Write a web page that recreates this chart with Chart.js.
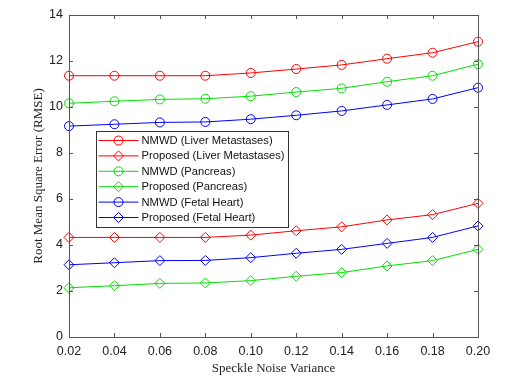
<!DOCTYPE html>
<html>
<head>
<meta charset="utf-8">
<script src="https://cdn.jsdelivr.net/npm/chart.js@4/dist/chart.umd.min.js"></script>
<style>
html,body{margin:0;padding:0;background:#fff;}
#wrap{width:528px;height:381px;position:relative;}
</style>
</head>
<body>
<div id="wrap"><canvas id="c" width="528" height="381"></canvas></div>
<script>
const noiseVariance = ['0.02','0.04','0.06','0.08','0.10','0.12','0.14','0.16','0.18','0.20'];
const nmwdLiver     = [11.36,11.36,11.36,11.36,11.48,11.65,11.83,12.10,12.36,12.84];
const propLiver     = [4.33,4.33,4.33,4.33,4.43,4.62,4.79,5.09,5.32,5.81];
const nmwdPancreas  = [10.16,10.25,10.33,10.36,10.47,10.65,10.81,11.10,11.36,11.86];
const propPancreas  = [2.14,2.23,2.33,2.35,2.45,2.64,2.80,3.09,3.32,3.81];
const nmwdHeart     = [9.17,9.25,9.33,9.35,9.47,9.64,9.83,10.09,10.35,10.84];
const propHeart     = [3.14,3.23,3.32,3.33,3.45,3.64,3.81,4.07,4.33,4.83];
const yTicks = [0,2,4,6,8,10,12,14];

const RED = '#ff0000', GREEN = '#00e000', BLUE = '#0000ff';
function ds(label, data, color, style){
  return {label, data, borderColor: color, backgroundColor: 'rgba(0,0,0,0)',
    pointBackgroundColor: 'rgba(0,0,0,0)', pointBorderColor: color,
    pointStyle: style, pointRadius: style === 'circle' ? 4.5 : 5, pointBorderWidth: 1,
    borderWidth: 1, tension: 0, fill: false};
}
const datasets = [
  ds('NMWD (Liver Metastases)', nmwdLiver, RED, 'circle'),
  ds('Proposed (Liver Metastases)', propLiver, RED, 'rectRot'),
  ds('NMWD (Pancreas)', nmwdPancreas, GREEN, 'circle'),
  ds('Proposed (Pancreas)', propPancreas, GREEN, 'rectRot'),
  ds('NMWD (Fetal Heart)', nmwdHeart, BLUE, 'circle'),
  ds('Proposed (Fetal Heart)', propHeart, BLUE, 'rectRot')
];

const AXIS = '#555555';
const boxTicks = {
  id: 'boxTicks',
  afterDraw(chart){
    const {ctx, chartArea: a, scales: {x, y}} = chart;
    ctx.save();
    ctx.strokeStyle = AXIS; ctx.lineWidth = 1;
    ctx.strokeRect(Math.round(a.left)+0.5, Math.round(a.top)+0.5, Math.round(a.right-a.left), Math.round(a.bottom-a.top));
    ctx.beginPath();
    const L = 4;
    x.ticks.forEach((t,i) => {
      const px = Math.round(x.getPixelForTick(i)) + 0.5;
      ctx.moveTo(px, a.bottom); ctx.lineTo(px, a.bottom - L);
      ctx.moveTo(px, a.top); ctx.lineTo(px, a.top + L);
    });
    y.ticks.forEach(t => {
      const py = Math.round(y.getPixelForValue(t.value)) + 0.5;
      ctx.moveTo(a.left, py); ctx.lineTo(a.left + L, py);
      ctx.moveTo(a.right, py); ctx.lineTo(a.right - L, py);
    });
    ctx.stroke();
    ctx.restore();
  }
};

const boxLegend = {
  id: 'boxLegend',
  afterDatasetsDraw(chart){
    const {ctx, chartArea: a} = chart;
    const bx = Math.round(a.left + 27) + 0.5, by = Math.round(a.top + 116) + 0.5;
    const bw = 192, bh = 96, rowH = 15.4;
    ctx.save();
    ctx.fillStyle = '#fff';
    ctx.fillRect(bx, by, bw, bh);
    ctx.strokeStyle = '#333'; ctx.lineWidth = 1;
    ctx.strokeRect(bx, by, bw, bh);
    ctx.font = '11.2px "Liberation Sans", Arial, sans-serif';
    ctx.textBaseline = 'middle';
    chart.data.datasets.forEach((d, i) => {
      const cy = by + 9 + i * rowH;
      ctx.strokeStyle = d.borderColor; ctx.lineWidth = 1;
      ctx.beginPath(); ctx.moveTo(bx + 2, cy); ctx.lineTo(bx + 42, cy); ctx.stroke();
      ctx.fillStyle = 'rgba(0,0,0,0)';
      ctx.strokeStyle = d.borderColor;
      Chart.helpers.drawPoint(ctx, {pointStyle: d.pointStyle, radius: d.pointRadius, rotation: 0, borderWidth: 1}, bx + 22, cy);
      ctx.fillStyle = '#111';
      ctx.fillText(d.label, bx + 45, cy + 0.5);
    });
    ctx.restore();
  }
};

new Chart(document.getElementById('c'), {
  type: 'line',
  data: {labels: noiseVariance, datasets},
  options: {
    responsive: false, animation: false, devicePixelRatio: 1,
    layout: {padding: {top: 15, right: 50, left: 0, bottom: 0}},
    plugins: {legend: {display: false}, tooltip: {enabled: false}},
    elements: {line: {tension: 0}},
    scales: {
      x: {
        type: 'category', offset: false,
        grid: {display: false, drawTicks: false},
        border: {display: false},
        ticks: {color: '#222', font: {family: '"Liberation Sans", Arial, sans-serif', size: 12.5}, padding: 7, maxRotation: 0, autoSkip: false},
        title: {display: true, text: 'Speckle Noise Variance', color: '#222',
          font: {family: '"Liberation Serif", "Times New Roman", serif', size: 13}, padding: {top: 0, bottom: 5}},
        afterFit(s){ s.height = 44; }
      },
      y: {
        min: 0, max: 14,
        afterBuildTicks(s){ s.ticks = yTicks.map(v => ({value: v})); },
        grid: {display: false, drawTicks: false},
        border: {display: false},
        ticks: {color: '#222', font: {family: '"Liberation Sans", Arial, sans-serif', size: 12.5}, padding: 6},
        title: {display: true, text: 'Root Mean Square Error (RMSE)', color: '#222',
          font: {family: '"Liberation Serif", "Times New Roman", serif', size: 13}, padding: {top: 31, bottom: 31}},
        afterFit(s){ s.width = 69; }
      }
    }
  },
  plugins: [boxTicks, boxLegend]
});
</script>
</body>
</html>
